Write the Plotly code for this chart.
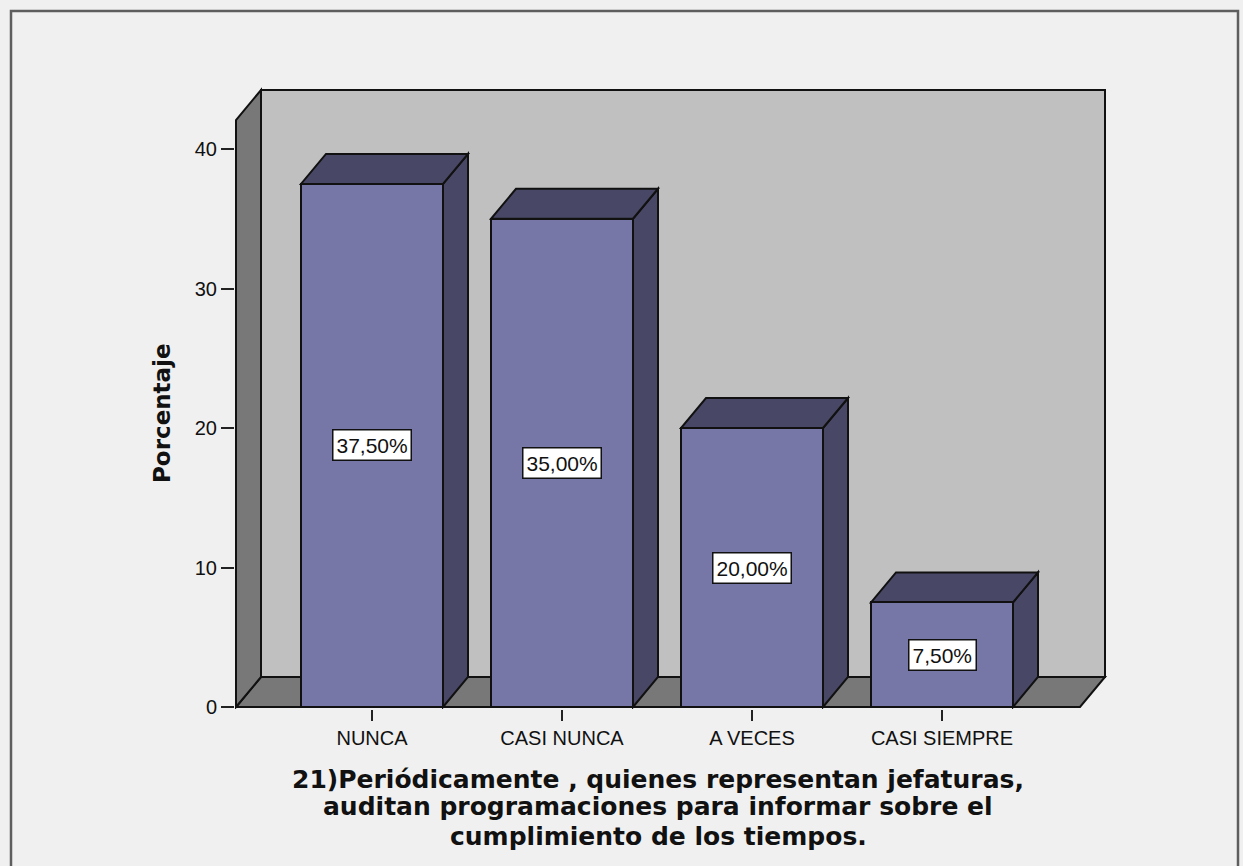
import plotly.graph_objects as go

# ---------------- data ----------------
categories = ["NUNCA", "CASI NUNCA", "A VECES", "CASI SIEMPRE"]
percentages = [37.5, 35.0, 20.0, 7.5]
value_labels = ["37,50%", "35,00%", "20,00%", "7,50%"]
y_tick_values = [0, 10, 20, 30, 40]
y_tick_labels = ["0", "10", "20", "30", "40"]
y_title = "Porcentaje"
x_title_lines = [
    "21)Periódicamente , quienes representan jefaturas,",
    "auditan programaciones para informar sobre el",
    "cumplimiento de los tiempos.",
]

# ---------------- geometry (pixels) ----------------
W, H = 1243, 866
FRONT_LEFT_PX = 236
BACK_RIGHT_PX = 1105
BASE_PX = 707
BACK_TOP_PX = 90
CAT0_PX = 372
CAT_STEP_PX = 190
UNIT_PX_Y = 13.95
DEPTH_X_PX, DEPTH_Y_PX = 25, 30
BAR_W_PX = 142
PAD_L, PAD, PAD_B = 1, 5, 2

x_unit = CAT_STEP_PX
xL = (FRONT_LEFT_PX - CAT0_PX) / x_unit
xR = (BACK_RIGHT_PX - CAT0_PX) / x_unit
yTop = (BASE_PX - BACK_TOP_PX) / UNIT_PX_Y
dx = DEPTH_X_PX / x_unit
dy = DEPTH_Y_PX / UNIT_PX_Y
bw = BAR_W_PX / x_unit

plot_l = FRONT_LEFT_PX - PAD_L
plot_r = BACK_RIGHT_PX + PAD
plot_t = BACK_TOP_PX - PAD
plot_b = BASE_PX + PAD_B
x_range = [(plot_l - CAT0_PX) / x_unit, (plot_r - CAT0_PX) / x_unit]
y_range = [-PAD_B / UNIT_PX_Y, (BASE_PX - plot_t) / UNIT_PX_Y]


def pxx(px):
    return (px - plot_l) / (plot_r - plot_l)


def pxy(py):
    return (plot_b - py) / (plot_b - plot_t)


FRONT = "#7777a7"
DARK = "#484866"
WALL_BACK = "#c0c0c0"
WALL_SIDE = "#787878"
EDGE = "#111111"
LW = 2

shapes = []
# outer frame
shapes.append(dict(type="rect", xref="paper", yref="paper",
                   x0=pxx(11), x1=pxx(1238), y0=pxy(890), y1=pxy(11),
                   line=dict(color="#5e5e5e", width=2.5),
                   fillcolor="rgba(0,0,0,0)", layer="below"))
# back wall
shapes.append(dict(type="rect", xref="x", yref="y",
                   x0=xL + dx, x1=xR, y0=dy, y1=yTop,
                   line=dict(color=EDGE, width=LW), fillcolor=WALL_BACK,
                   layer="below"))
# floor
shapes.append(dict(type="path", xref="x", yref="y",
                   path=f"M {xL},0 L {xR - dx},0 L {xR},{dy} L {xL + dx},{dy} Z",
                   line=dict(color=EDGE, width=LW), fillcolor=WALL_SIDE,
                   layer="below"))
# left wall
shapes.append(dict(type="path", xref="x", yref="y",
                   path=f"M {xL},0 L {xL + dx},{dy} L {xL + dx},{yTop} L {xL},{yTop - dy} Z",
                   line=dict(color=EDGE, width=LW), fillcolor=WALL_SIDE,
                   layer="below"))

# bar tops and sides
for i, v in enumerate(percentages):
    l = i - bw / 2
    r = i + bw / 2
    shapes.append(dict(type="path", xref="x", yref="y",
                       path=f"M {r},0 L {r + dx},{dy} L {r + dx},{v + dy} L {r},{v} Z",
                       line=dict(color=EDGE, width=LW), fillcolor=DARK,
                       layer="below"))
    shapes.append(dict(type="path", xref="x", yref="y",
                       path=f"M {l},{v} L {r},{v} L {r + dx},{v + dy} L {l + dx},{v + dy} Z",
                       line=dict(color=EDGE, width=LW), fillcolor=DARK,
                       layer="below"))

fig = go.Figure()
fig.add_trace(go.Bar(
    x=list(range(len(categories))), y=percentages, width=bw,
    marker=dict(color=FRONT, line=dict(color=EDGE, width=LW)),
    hoverinfo="skip", showlegend=False,
))

annotations = []
for i, (v, t) in enumerate(zip(percentages, value_labels)):
    annotations.append(dict(
        x=i, y=v / 2, xref="x", yref="y", text=t, showarrow=False,
        font=dict(family="Liberation Sans, Arial", size=21, color="#111"),
        bgcolor="white", bordercolor="#111", borderwidth=1.5, borderpad=3,
        xanchor="center", yanchor="middle",
    ))

annotations.append(dict(
    x=pxx(162), y=pxy(413), xref="paper", yref="paper", text=y_title,
    showarrow=False, textangle=-90,
    font=dict(family="DejaVu Sans", size=23, color="#111", weight="bold"),
    xanchor="center", yanchor="middle",
))

for k, (line, py) in enumerate(zip(x_title_lines, [779, 807, 836])):
    annotations.append(dict(
        x=pxx(658), y=pxy(py), xref="paper", yref="paper", text=line,
        showarrow=False,
        font=dict(family="DejaVu Sans", size=25, color="#111", weight="bold"),
        xanchor="center", yanchor="middle",
    ))

fig.update_layout(
    width=W, height=H,
    margin=dict(l=plot_l, r=W - plot_r, t=plot_t, b=H - plot_b, pad=0),
    paper_bgcolor="#f0f0f0", plot_bgcolor="rgba(0,0,0,0)",
    shapes=shapes, annotations=annotations,
    bargap=0,
    xaxis=dict(range=x_range, tickmode="array", tickvals=list(range(len(categories))),
               ticktext=categories, ticks="outside", ticklen=11, tickwidth=2,
               tickcolor="#222", showgrid=False, zeroline=False, showline=False,
               tickfont=dict(family="Liberation Sans, Arial", size=20, color="#111"),
               fixedrange=True),
    yaxis=dict(range=y_range, tickmode="array", tickvals=y_tick_values,
               ticktext=y_tick_labels, ticks="outside", ticklen=13, tickwidth=2,
               tickcolor="#222", showgrid=False, zeroline=False, showline=False,
               tickfont=dict(family="Liberation Sans, Arial", size=20, color="#111"),
               fixedrange=True),
)

fig.write_html("out.html", config={"displayModeBar": False},
               post_script="document.body.style.margin='0';document.body.style.overflow='hidden';")
